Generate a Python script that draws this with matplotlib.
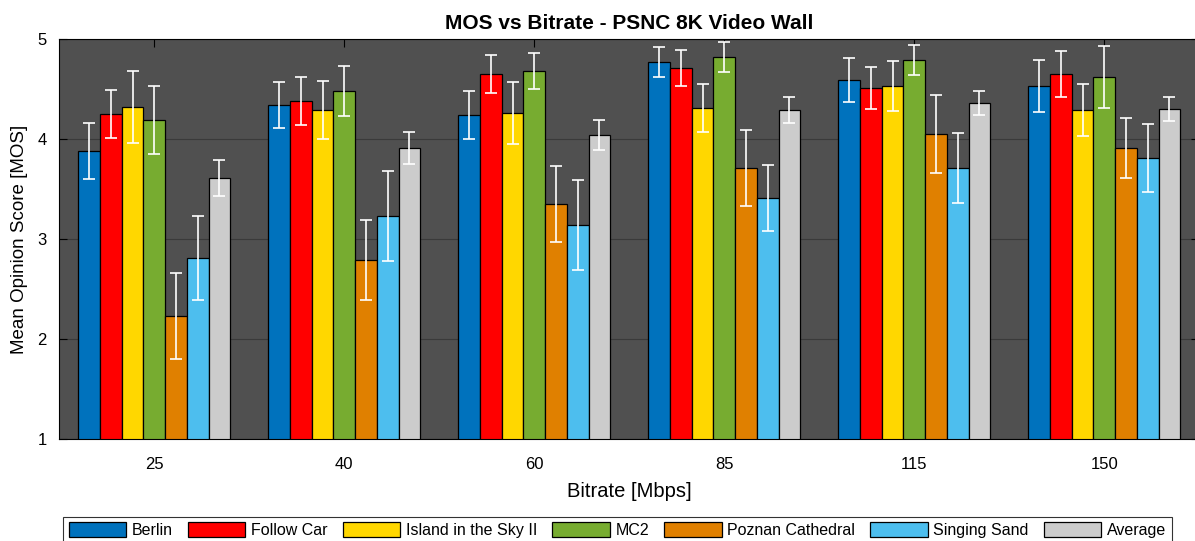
import numpy as np
import matplotlib
matplotlib.use("Agg")
import matplotlib.pyplot as plt

plt.rcParams["font.family"] = ["Liberation Sans", "DejaVu Sans"]

# ---------------------------------------------------------------------------
# Datos: MOS medio e intervalo de confianza por secuencia y bitrate
# ---------------------------------------------------------------------------
bitrates = ["25", "40", "60", "85", "115", "150"]

series_names = ["Berlin", "Follow Car", "Island in the Sky II", "MC2",
                "Poznan Cathedral", "Singing Sand", "Average"]

berlin = [3.88, 4.34, 4.24, 4.77, 4.59, 4.53]
follow_car = [4.25, 4.38, 4.65, 4.71, 4.51, 4.65]
island = [4.32, 4.29, 4.26, 4.31, 4.53, 4.29]
mc2 = [4.19, 4.48, 4.68, 4.82, 4.79, 4.62]
poznan = [2.23, 2.79, 3.35, 3.71, 4.05, 3.91]
singing_sand = [2.81, 3.23, 3.14, 3.41, 3.71, 3.81]
average = [3.61, 3.91, 4.04, 4.29, 4.36, 4.30]

berlin_err = [0.28, 0.23, 0.24, 0.15, 0.22, 0.26]
follow_car_err = [0.24, 0.24, 0.19, 0.18, 0.21, 0.23]
island_err = [0.36, 0.29, 0.31, 0.24, 0.25, 0.26]
mc2_err = [0.34, 0.25, 0.18, 0.15, 0.15, 0.31]
poznan_err = [0.43, 0.40, 0.38, 0.38, 0.39, 0.30]
singing_sand_err = [0.42, 0.45, 0.45, 0.33, 0.35, 0.34]
average_err = [0.18, 0.16, 0.15, 0.13, 0.12, 0.12]

valores = [berlin, follow_car, island, mc2, poznan, singing_sand, average]
errores = [berlin_err, follow_car_err, island_err, mc2_err, poznan_err,
           singing_sand_err, average_err]

colores = ["#0072BD", "#FF0000", "#FFD700", "#77AC30", "#E08000",
           "#4DBEEE", "#CCCCCC"]

# ---------------------------------------------------------------------------
# Gráfico de barras agrupadas
# ---------------------------------------------------------------------------
fig = plt.figure(figsize=(11.95, 5.41), dpi=100)
ax = fig.add_axes([0.0496, 0.188, 0.954, 0.740])
ax.set_facecolor("#505050")

x = np.arange(1, len(bitrates) + 1)
n = len(series_names)
ancho = 0.8 / n

for i, (nombre, v, e, c) in enumerate(zip(series_names, valores, errores, colores)):
    pos = x + (i - (n - 1) / 2) * ancho
    ax.bar(pos, v, width=ancho, color=c, edgecolor="black", linewidth=0.9,
           label=nombre, zorder=2)
    ax.errorbar(pos, v, yerr=e, fmt="none", ecolor="white", elinewidth=1.2,
                capsize=4, capthick=1.2, zorder=3)

ax.set_xlim(0.5, len(bitrates) + 0.5)
ax.set_ylim(1, 5)
ax.set_xticks(x)
ax.set_xticklabels(bitrates)
ax.set_yticks([1, 2, 3, 4, 5])
ax.tick_params(direction="in", length=6, width=0.8, labelsize=12,
               top=True, right=True)
ax.tick_params(axis="x", pad=13)
ax.tick_params(axis="y", pad=9)

ax.grid(axis="y", color="#3a3a3a", linewidth=0.8, zorder=0)
ax.set_axisbelow(True)
for s in ax.spines.values():
    s.set_color("black")
    s.set_linewidth(0.8)

ax.set_title("MOS vs Bitrate - PSNC 8K Video Wall", fontsize=15,
             fontweight="bold", pad=7)
ax.set_xlabel("Bitrate [Mbps]", fontsize=14.5, labelpad=7)
ax.set_ylabel("Mean Opinion Score [MOS]", fontsize=13.5, labelpad=7)

leg = fig.legend(loc="upper left", bbox_to_anchor=(63 / 1195, 1 - 516.7 / 541),
                 ncol=n, fontsize=11.5, frameon=True, fancybox=False,
                 handlelength=3.6, handleheight=1.0, handletextpad=0.35,
                 columnspacing=0.95, borderpad=0.35, borderaxespad=0)
leg.get_frame().set_edgecolor("black")
leg.get_frame().set_linewidth(0.8)

plt.savefig("out.png", dpi=100)
plt.close()
